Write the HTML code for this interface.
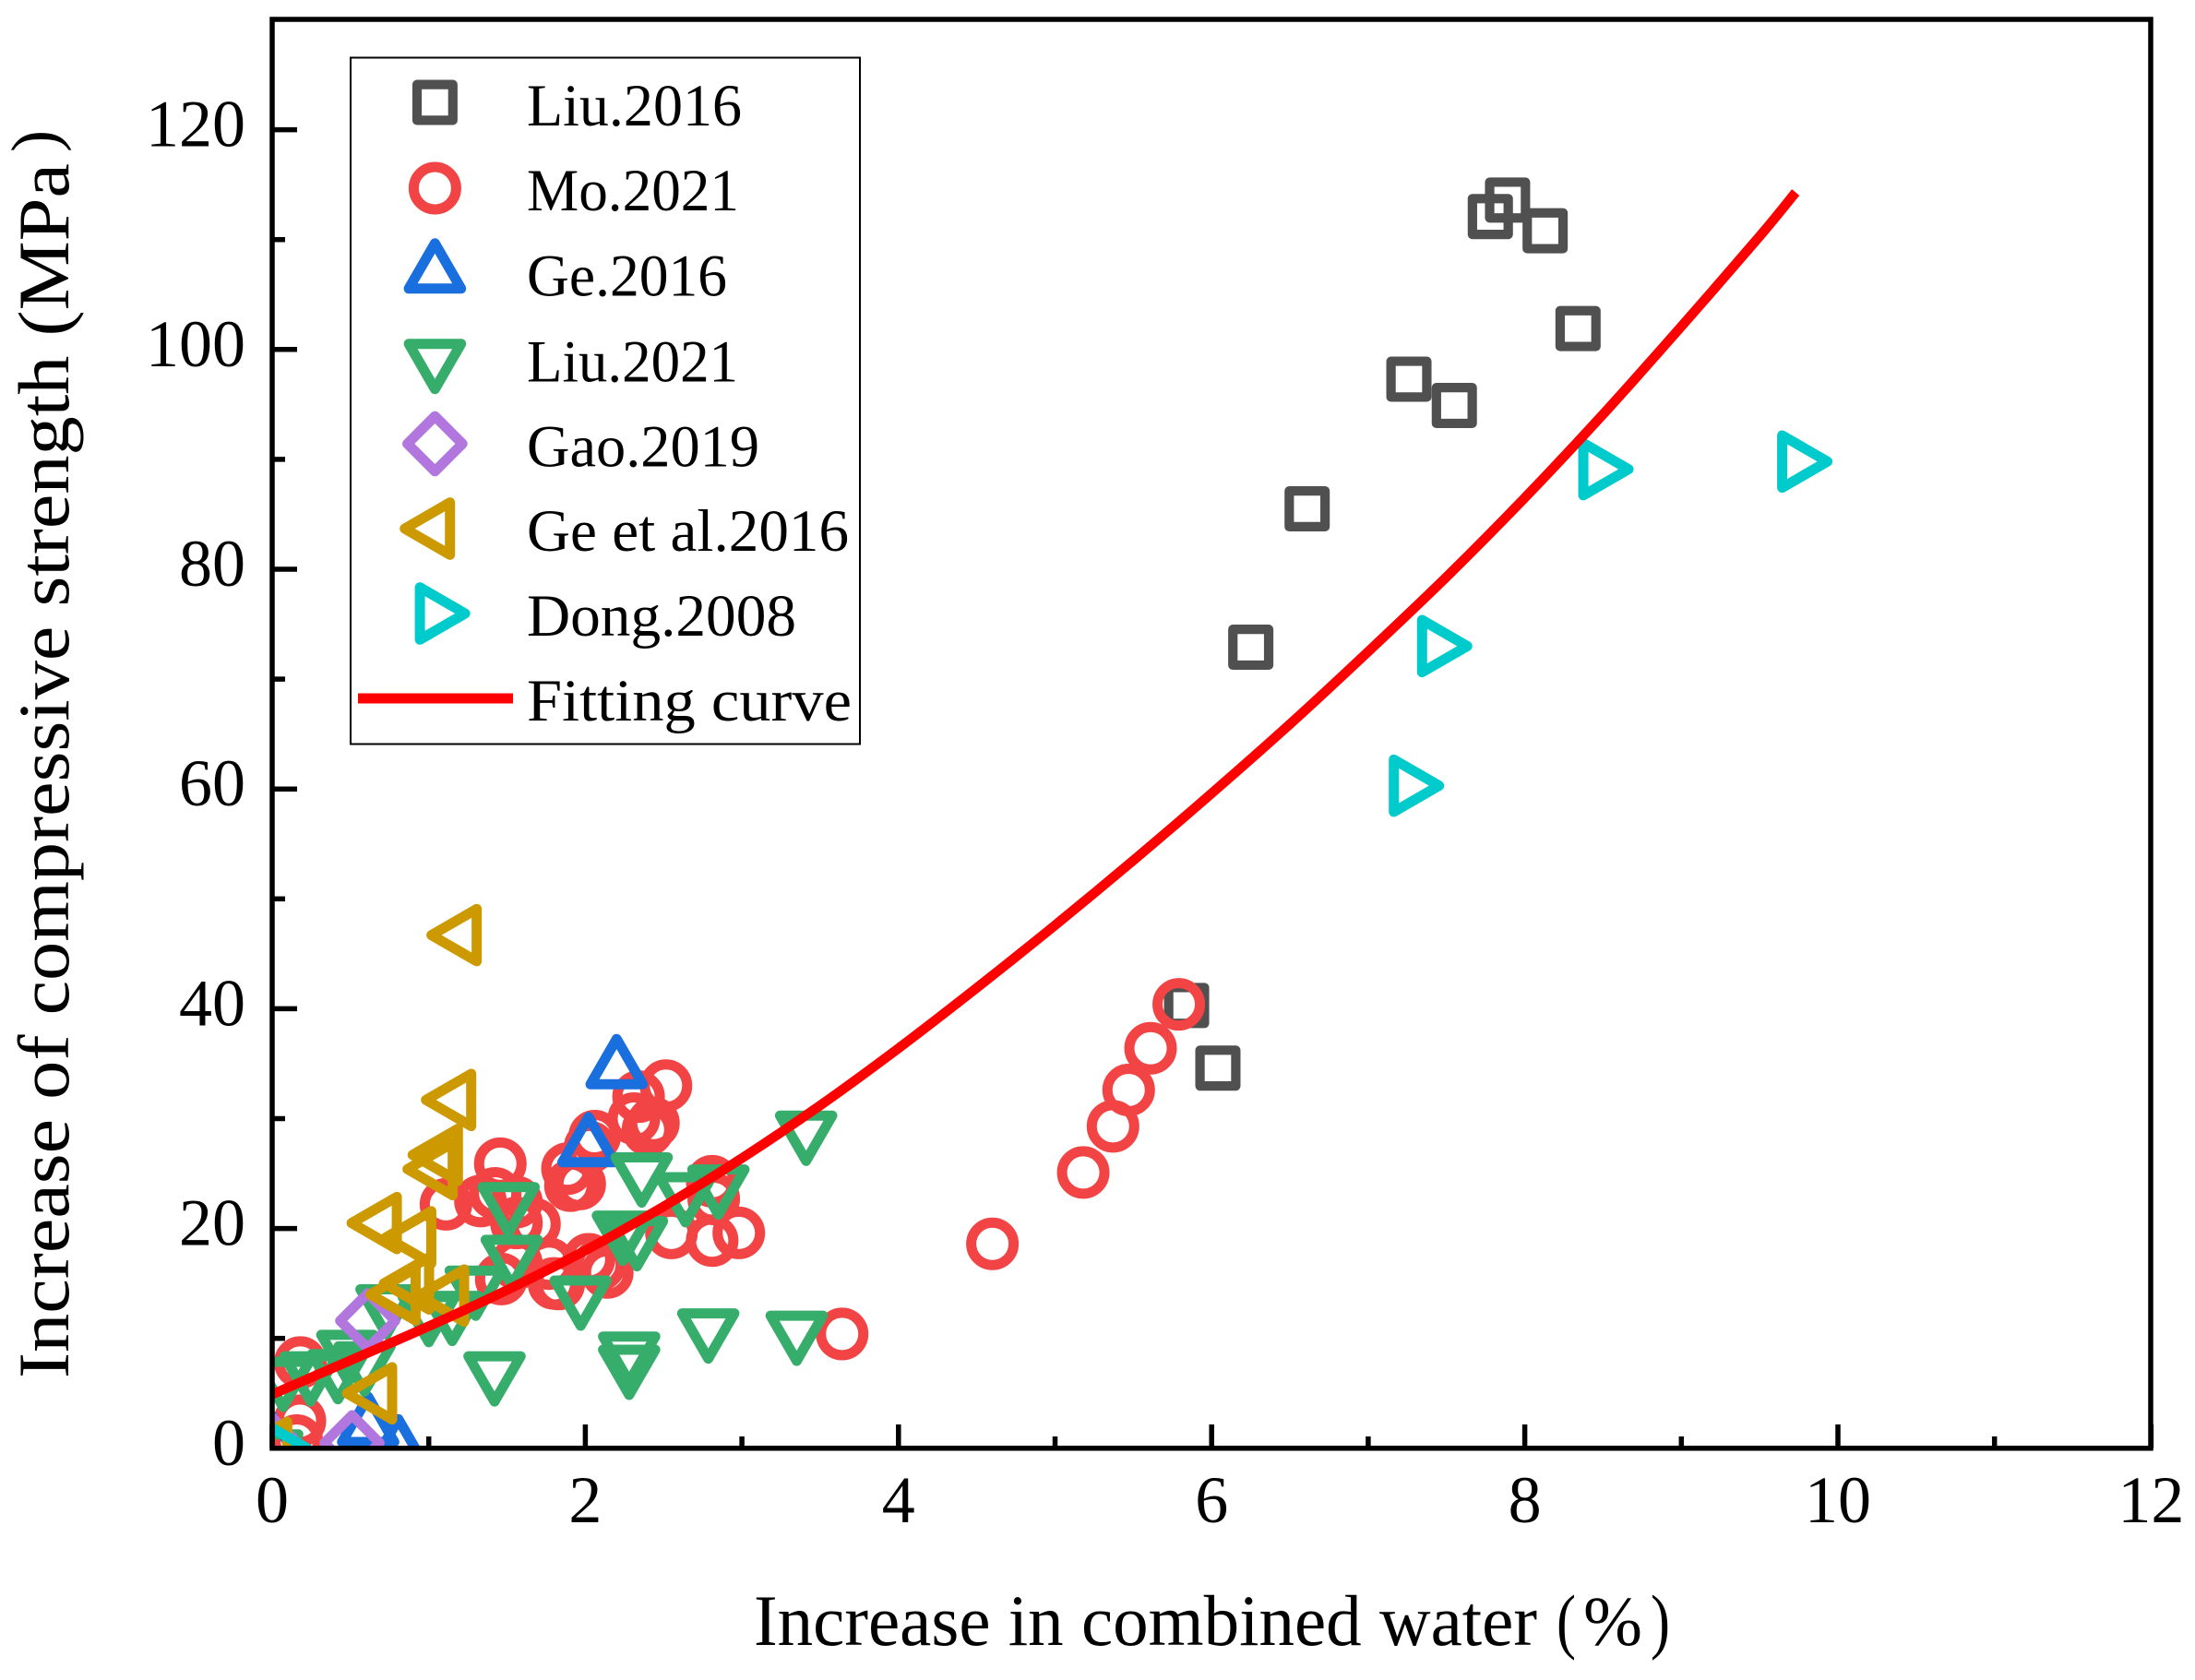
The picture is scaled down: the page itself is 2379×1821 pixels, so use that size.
<!DOCTYPE html>
<html lang="en">
<head>
<meta charset="utf-8">
<title>Increase of compressive strength vs combined water</title>
<style>
html,body{margin:0;padding:0;background:#fff;}
svg{display:block;}
text{font-family:"Liberation Serif",serif;fill:#000;}
</style>
</head>
<body>
<svg id="chart" xmlns="http://www.w3.org/2000/svg" width="2379" height="1821" viewBox="0 0 2379 1821">
  <defs><clipPath id="plot-clip"><rect x="295" y="19.6" width="2036" height="1550.2"/></clipPath></defs>
  <rect x="0" y="0" width="2379" height="1821" fill="#fff"/>
  <g id="marks" clip-path="url(#plot-clip)"></g>
  <g id="axes"></g>

  <text x="817" y="1783" font-size="78" textLength="849" lengthAdjust="spacingAndGlyphs">Increase in combined water</text>
  <text x="1687" y="1783" font-size="78" textLength="21" lengthAdjust="spacingAndGlyphs">(</text>
  <text x="1716" y="1783" font-size="76" textLength="64" lengthAdjust="spacingAndGlyphs">%</text>
  <text x="1789" y="1783" font-size="78" textLength="21" lengthAdjust="spacingAndGlyphs">)</text>

  <text transform="translate(74,1494) rotate(-90)" x="0" y="0" font-size="78" textLength="1317" lengthAdjust="spacingAndGlyphs">Increase of compressive strength (MPa</text>
  <text transform="translate(62,165) rotate(-90)" x="0" y="0" font-size="72" textLength="24" lengthAdjust="spacingAndGlyphs">)</text>

  <g id="legend">
    <rect x="380" y="62.5" width="552" height="744" fill="#fff" stroke="#000" stroke-width="2"/>
    <g id="legend-symbols"></g>
    <line x1="388" y1="757" x2="556" y2="757" stroke="#ff0000" stroke-width="11"/>
    <text x="571" y="136" font-size="65" textLength="233" lengthAdjust="spacingAndGlyphs">Liu.2016</text>
    <text x="571" y="228" font-size="65" textLength="230" lengthAdjust="spacingAndGlyphs">Mo.2021</text>
    <text x="571" y="320.5" font-size="65" textLength="217" lengthAdjust="spacingAndGlyphs">Ge.2016</text>
    <text x="571" y="413.5" font-size="65" textLength="229" lengthAdjust="spacingAndGlyphs">Liu.2021</text>
    <text x="571" y="505.5" font-size="65" textLength="252" lengthAdjust="spacingAndGlyphs">Gao.2019</text>
    <text x="571" y="597" font-size="65" textLength="349" lengthAdjust="spacingAndGlyphs">Ge et al.2016</text>
    <text x="571" y="689" font-size="65" textLength="292" lengthAdjust="spacingAndGlyphs">Dong.2008</text>
    <text x="571" y="781" font-size="65" textLength="352" lengthAdjust="spacingAndGlyphs">Fitting curve</text>
  </g>
</svg>
<script>
// ---- data ----
const liu2016X = [6.25, 6.61, 7.26, 7.55, 7.78, 7.89, 8.13, 8.34, 5.84, 6.04];
const liu2016Y = [72.9, 85.5, 97.3, 94.9, 112.1, 113.6, 110.8, 101.9, 40.3, 34.6];

const mo2021X = [0.18, 0.177, 0.157, 1.11, 1.33, 1.457, 1.424, 1.56, 1.675, 1.56, 1.886, 1.964, 1.905, 2.06, 2.03, 2.34, 2.40, 2.435, 2.31, 2.515, 2.81, 2.82, 2.55, 2.98, 2.81, 2.14, 2.023, 2.09, 1.768, 1.80, 1.83, 1.463, 1.56, 3.64, 4.6, 5.18, 5.37, 5.47, 5.61, 5.79];
const mo2021Y = [7.8, 2.5, 0.7, 22.2, 22.5, 25.9, 23.2, 22.4, 20.4, 20.5, 25.45, 24.05, 23.9, 28.4, 27.4, 32.0, 29.0, 29.6, 30.0, 33.0, 24.3, 22.7, 19.6, 19.6, 18.9, 16.0, 17.2, 16.7, 16.8, 15.0, 14.95, 15.4, 16.8, 10.4, 18.6, 25.1, 29.3, 32.6, 36.4, 40.4];

const ge2016X = [2.2, 2.02, 0.613, 0.806, 0.0];
const ge2016Y = [34.5, 27.4, 1.94, -0.1, 0.2];

const liu2021X = [2.36, 2.64, 2.85, 3.41, 2.24, 2.33, 1.97, 2.28, 2.28, 2.785, 3.35, 1.51, 1.53, 1.42, 1.15, 1.30, 1.00, 0.73, 0.48, 0.59, 0.245, 0.42, 0.07, 0.0];
const liu2021Y = [25.1, 23.3, 24.0, 28.9, 19.8, 19.3, 13.9, 8.8, 7.6, 10.9, 10.7, 22.4, 17.6, 7.0, 12.5, 14.8, 12.4, 13.1, 8.95, 7.9, 7.0, 7.2, 6.5, -0.1];

const gao2019X = [0.61, 0.51, 0.0];
const gao2019Y = [11.6, 0.5, 0.3];

const geEtAl2016X = [1.21, 1.175, 1.09, 1.057, 0.70, 0.92, 0.906, 0.82, 1.13, 0.67, 0.0];
const geEtAl2016Y = [46.7, 31.7, 26.7, 25.4, 20.5, 19.2, 15.0, 14.0, 13.9, 5.0, 0.05];

const dong2008X = [7.26, 7.44, 8.47, 9.74, 0.03];
const dong2008Y = [60.3, 73.0, 89.1, 89.8, 0.0];

const curveX = [0, 0.5, 1, 1.5, 2, 2.5, 3, 3.5, 4, 4.5, 5, 5.5, 6, 6.5, 7, 7.5, 8, 8.5, 9, 9.5, 9.73];
const curveY = [4.9, 8.0, 11.1, 14.4, 18.0, 22.0, 26.4, 31.2, 36.4, 41.9, 47.6, 53.5, 59.6, 65.9, 72.5, 79.3, 86.5, 94.1, 102.1, 110.3, 114.3];

const xTickValues = [0, 2, 4, 6, 8, 10, 12];
const xMinorTickValues = [1, 3, 5, 7, 9, 11];
const yTickValues = [0, 20, 40, 60, 80, 100, 120];
const yMinorTickValues = [10, 30, 50, 70, 90, 110];

// ---- scales ----
const SVGNS = 'http://www.w3.org/2000/svg';
function xScale(v) { return 295 + 169.7 * v; }
function yScale(v) { return 1569.8 - 11.91 * v; }

const marksGroup = document.getElementById('marks');
const axesGroup = document.getElementById('axes');
const legendSymbols = document.getElementById('legend-symbols');

function shapeEl(shape, cx, cy, color) {
  let el;
  if (shape === 'circle') {
    el = document.createElementNS(SVGNS, 'circle');
    el.setAttribute('cx', cx);
    el.setAttribute('cy', cy);
    el.setAttribute('r', 23);
  } else {
    el = document.createElementNS(SVGNS, 'polygon');
    let pts;
    if (shape === 'square') pts = [[-19.4,-19.4],[19.4,-19.4],[19.4,19.4],[-19.4,19.4]];
    if (shape === 'up') pts = [[0,-32.7],[28.3,16.3],[-28.3,16.3]];
    if (shape === 'down') pts = [[0,32.7],[28.3,-16.3],[-28.3,-16.3]];
    if (shape === 'left') pts = [[-32.7,0],[16.3,-28.3],[16.3,28.3]];
    if (shape === 'right') pts = [[32.7,0],[-16.3,-28.3],[-16.3,28.3]];
    if (shape === 'diamond') pts = [[0,-29.8],[29.8,0],[0,29.8],[-29.8,0]];
    el.setAttribute('points', pts.map(function (p) { return (cx + p[0]) + ',' + (cy + p[1]); }).join(' '));
  }
  el.setAttribute('fill', 'none');
  el.setAttribute('stroke', color);
  el.setAttribute('stroke-width', shape === 'square' ? 10.2 : 11);
  el.setAttribute('stroke-linejoin', 'round');
  return el;
}

function drawSeries(xs, ys, shape, color, seriesName) {
  const g = document.createElementNS(SVGNS, 'g');
  
  
  for (let i = 0; i < xs.length; i++) {
    const el = shapeEl(shape, xScale(xs[i]), yScale(ys[i]), color);
    
    
    g.appendChild(el);
  }
  marksGroup.appendChild(g);
}

drawSeries(liu2016X, liu2016Y, 'square', '#505050', 'series-liu-2016');
drawSeries(mo2021X, mo2021Y, 'circle', '#f24444', 'series-mo-2021');
drawSeries(ge2016X, ge2016Y, 'up', '#1a6fdf', 'series-ge-2016');
drawSeries(liu2021X, liu2021Y, 'down', '#37ad6b', 'series-liu-2021');
drawSeries(gao2019X, gao2019Y, 'diamond', '#b177de', 'series-gao-2019');
drawSeries(geEtAl2016X, geEtAl2016Y, 'left', '#cc9900', 'series-ge-et-al-2016');
drawSeries(dong2008X, dong2008Y, 'right', '#00cbcc', 'series-dong-2008');

// fitting curve: smooth Catmull-Rom path through the read values
function curvePath(xs, ys) {
  const px = xs.map(xScale);
  const py = ys.map(yScale);
  let d = 'M' + px[0] + ' ' + py[0];
  for (let i = 0; i < px.length - 1; i++) {
    const a = Math.max(i - 1, 0);
    const b = Math.min(i + 2, px.length - 1);
    const c1x = px[i] + (px[i + 1] - px[a]) / 6;
    const c1y = py[i] + (py[i + 1] - py[a]) / 6;
    const c2x = px[i + 1] - (px[b] - px[i]) / 6;
    const c2y = py[i + 1] - (py[b] - py[i]) / 6;
    d += ' C' + c1x + ' ' + c1y + ' ' + c2x + ' ' + c2y + ' ' + px[i + 1] + ' ' + py[i + 1];
  }
  return d;
}
const curve = document.createElementNS(SVGNS, 'path');


curve.setAttribute('d', curvePath(curveX, curveY));
curve.setAttribute('fill', 'none');
curve.setAttribute('stroke', '#ff0000');
curve.setAttribute('stroke-width', 10.5);
curve.setAttribute('stroke-linejoin', 'round');
marksGroup.appendChild(curve);

// frame
const frame = document.createElementNS(SVGNS, 'rect');


frame.setAttribute('x', 295);
frame.setAttribute('y', 21);
frame.setAttribute('width', 2036);
frame.setAttribute('height', 1548.8);
frame.setAttribute('fill', 'none');
frame.setAttribute('stroke', '#000');
frame.setAttribute('stroke-width', 5.5);
axesGroup.appendChild(frame);

function drawLine(x1, y1, x2, y2, name) {
  const l = document.createElementNS(SVGNS, 'line');
  
  
  l.setAttribute('x1', x1);
  l.setAttribute('y1', y1);
  l.setAttribute('x2', x2);
  l.setAttribute('y2', y2);
  l.setAttribute('stroke', '#000');
  l.setAttribute('stroke-width', 5.5);
  axesGroup.appendChild(l);
}

function drawLabel(x, y, anchor, str, name) {
  const t = document.createElementNS(SVGNS, 'text');
  
  
  t.setAttribute('x', x);
  t.setAttribute('y', y);
  t.setAttribute('text-anchor', anchor);
  t.setAttribute('font-size', 72);
  t.textContent = str;
  axesGroup.appendChild(t);
}

xTickValues.forEach(function (v) {
  drawLine(xScale(v), 1569.8, xScale(v), 1544, 'x-major-tick');
  drawLabel(xScale(v), 1650, 'middle', String(v), 'x-tick-label');
});
xMinorTickValues.forEach(function (v) {
  drawLine(xScale(v), 1569.8, xScale(v), 1557, 'x-minor-tick');
});
yTickValues.forEach(function (v) {
  drawLine(295, yScale(v), 322, yScale(v), 'y-major-tick');
  drawLabel(266, yScale(v) + 18, 'end', String(v), 'y-tick-label');
});
yMinorTickValues.forEach(function (v) {
  drawLine(295, yScale(v), 309, yScale(v), 'y-minor-tick');
});

// legend symbols
function legendSymbol(shape, cx, cy, color, name) {
  const el = shapeEl(shape, cx, cy, color);
  
  
  legendSymbols.appendChild(el);
}
legendSymbol('square', 471.4, 111, '#505050', 'legend-symbol-liu-2016');
legendSymbol('circle', 471.4, 204, '#f24444', 'legend-symbol-mo-2021');
legendSymbol('up', 471.4, 296.5, '#1a6fdf', 'legend-symbol-ge-2016');
legendSymbol('down', 471.4, 389, '#37ad6b', 'legend-symbol-liu-2021');
legendSymbol('diamond', 471.4, 481, '#b177de', 'legend-symbol-gao-2019');
legendSymbol('left', 471.4, 573, '#cc9900', 'legend-symbol-ge-et-al-2016');
legendSymbol('right', 471.4, 665, '#00cbcc', 'legend-symbol-dong-2008');
</script>
</body>
</html>
